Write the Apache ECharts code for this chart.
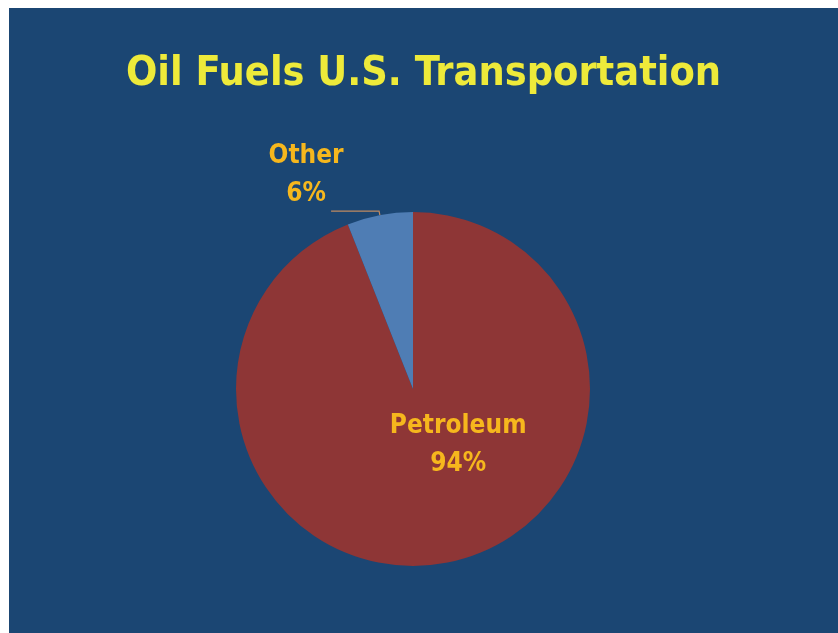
<!DOCTYPE html>
<html>
<head>
<meta charset="utf-8">
<script src="https://cdn.jsdelivr.net/npm/echarts@6/dist/echarts.min.js"></script>
<style>
  html, body { margin: 0; padding: 0; background: #fff; }
  #chart { position: absolute; left: 9px; top: 8px; width: 829px; height: 625px; background: #1b4673; }
</style>
</head>
<body>
<div id="chart"></div>
<script>
// fuel share of US transportation energy
var categories = ['Petroleum', 'Other'];
var shares = [94, 6];
var sliceColors = ['#8e3636', '#4f7db4'];

var font = '"DejaVu Sans Condensed", "DejaVu Sans", sans-serif';
var labelYellow = '#f6b71d';

var myChart = echarts.init(document.getElementById('chart'));

var option = {
  backgroundColor: '#1b4673',
  title: {
    text: 'Oil Fuels U.S. Transportation',
    left: 'center',
    top: 41,
    textStyle: { color: '#eeea3a', fontFamily: font, fontStyle: 'condensed', fontWeight: 'bold', fontSize: 41 }
  },
  series: [{
    type: 'pie',
    center: [404, 381],
    radius: 177,
    startAngle: 90,
    clockwise: true,
    animation: false,
    silent: true,
    data: categories.map(function (name, i) {
      return {
        name: name,
        value: shares[i],
        itemStyle: { color: sliceColors[i] },
        label: { position: i === 0 ? 'inside' : 'outside' }
      };
    }),
    label: {
      formatter: '{b}\n{d}%',
      color: labelYellow,
      fontFamily: font,
      fontStyle: 'condensed',
      fontWeight: 'bold',
      fontSize: 26,
      lineHeight: 38
    },
    labelLine: {
      show: true,
      length: 4,
      length2: 48,
      lineStyle: { color: '#c08a62', width: 1.2 }
    },
    labelLayout: function (params) {
      if (params.dataIndex === 0) {
        return { dx: 28, dy: -34 };
      }
      return { align: 'center', dx: -20, dy: -36 };
    }
  }]
};

myChart.setOption(option);
</script>
</body>
</html>
